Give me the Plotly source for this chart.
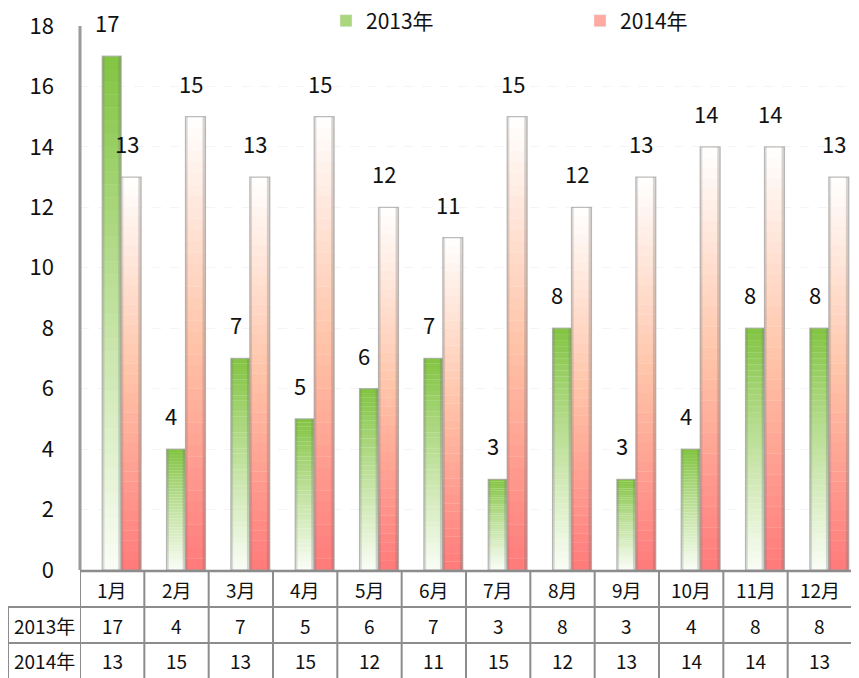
import plotly.graph_objects as go

months = ["1月", "2月", "3月", "4月", "5月", "6月", "7月", "8月", "9月", "10月", "11月", "12月"]
series_names = ["2013年", "2014年"]
v2013 = [17, 4, 7, 5, 6, 7, 3, 8, 3, 4, 8, 8]
v2014 = [13, 15, 13, 15, 12, 11, 15, 12, 13, 14, 14, 13]
y_ticks = [0, 2, 4, 6, 8, 10, 12, 14, 16, 18]

# the page body adds an 8px margin; layout is expressed in window pixels
OFF = 8
W, H = 859 - OFF, 678 - OFF
ML, MR, MT, MB = 80 - OFF, 7, 26 - OFF, 678 - 570
PW, PH = W - ML - MR, H - MT - MB

def py(p):  # window pixel y -> paper y
    return (H - MB - (p - OFF)) / PH

def px(p):  # window pixel x -> paper x
    return (p - OFF - ML) / PW

def lerp_stops(stops, t):
    for (t0, c0), (t1, c1) in zip(stops[:-1], stops[1:]):
        if t0 <= t <= t1:
            f = (t - t0) / (t1 - t0) if t1 > t0 else 0
            c = [round(a + (b - a) * f) for a, b in zip(c0, c1)]
            return "rgb(%d,%d,%d)" % tuple(c)
    c = stops[-1][1]
    return "rgb(%d,%d,%d)" % tuple(c)

green_stops = [(0.0, (250, 253, 246)), (0.5, (194, 226, 160)), (1.0, (130, 196, 66))]
red_stops = [(0.0, (255, 122, 122)), (0.5, (255, 196, 168)), (1.0, (255, 255, 255))]

x_idx = list(range(len(months)))
N = 40
fig = go.Figure()

specs = [
    (v2013, green_stops, -0.155, 0.295),
    (v2014, red_stops, 0.14, 0.31),
]
for vals, stops, off, wid in specs:
    for k in range(N):
        fig.add_trace(go.Bar(
            x=x_idx, y=[v / N * 1.03 if k < N - 1 else v / N for v in vals],
            base=[v * k / N for v in vals],
            offset=off, width=wid,
            marker=dict(color=lerp_stops(stops, (k + 0.5) / N), line=dict(width=0)),
            showlegend=False, hoverinfo="skip",
        ))
    # cylinder edge shading
    for eo, ew, a in ((off, 0.035, 0.22), (off + wid - 0.045, 0.045, 0.28)):
        fig.add_trace(go.Bar(
            x=x_idx, y=vals, offset=eo, width=ew,
            marker=dict(color="rgba(110,110,110,%.2f)" % a, line=dict(width=0)),
            showlegend=False, hoverinfo="skip",
        ))
    # cylinder outline
    fig.add_trace(go.Bar(
        x=x_idx, y=vals, offset=off, width=wid,
        marker=dict(color="rgba(0,0,0,0)", line=dict(color="rgba(160,160,160,0.7)", width=1.2)),
        showlegend=False, hoverinfo="skip",
    ))

# legend entries
fig.add_trace(go.Bar(x=[None], y=[None], name=series_names[0], legend="legend",
                     marker=dict(color="rgb(170,214,125)")))
fig.add_trace(go.Bar(x=[None], y=[None], name=series_names[1], legend="legend2",
                     marker=dict(color="rgb(255,170,160)")))

annotations = []
label_font = dict(family="Noto Sans CJK SC, Noto Sans, sans-serif", size=22, color="#111")
for i in x_idx:
    annotations.append(dict(x=i - 0.08, y=v2013[i], xref="x", yref="y", text=str(v2013[i]),
                            xanchor="center", yanchor="middle",
                            showarrow=False, yshift=34, font=label_font))
    annotations.append(dict(x=i + 0.225, y=v2014[i], xref="x", yref="y", text=str(v2014[i]),
                            xanchor="center", yanchor="middle",
                            showarrow=False, yshift=34, font=label_font))

# data table
tfont = dict(family="Liberation Sans Narrow, Noto Sans CJK SC, sans-serif", size=19, color="#111")
row_centers = [589, 625, 660]
def cell(x, y, text, xref="x"):
    return dict(x=x, y=y, xref=xref, yref="paper", text=text, showarrow=False,
                xanchor="center", yanchor="middle", font=tfont)
for i in x_idx:
    annotations.append(cell(i, py(row_centers[0]), months[i]))
    annotations.append(cell(i, py(row_centers[1]), str(v2013[i])))
    annotations.append(cell(i, py(row_centers[2]), str(v2014[i])))
for r, name in enumerate(series_names):
    annotations.append(cell(px(44), py(row_centers[r + 1]), name, xref="paper"))

line_col = "#8c8c8c"
shapes = []
shapes.append(dict(type="line", xref="paper", yref="paper", x0=0, x1=1, y0=py(571), y1=py(571),
                   line=dict(color=line_col, width=2.5)))
for yp in (607, 643):
    shapes.append(dict(type="line", xref="paper", yref="paper", x0=px(8), x1=1,
                       y0=py(yp), y1=py(yp), line=dict(color=line_col, width=2)))
for b in range(len(months) + 1):
    shapes.append(dict(type="line", xref="x", yref="paper", x0=b - 0.5, x1=b - 0.5,
                       y0=py(571), y1=py(680), line=dict(color=line_col, width=2)))
shapes.append(dict(type="line", xref="paper", yref="paper", x0=px(8), x1=px(8),
                   y0=py(607), y1=py(680), line=dict(color=line_col, width=2)))
shapes.append(dict(type="line", xref="paper", yref="paper", x0=0, x1=0, y0=0, y1=1,
                   line=dict(color="#9a9a9a", width=3)))

legend_common = dict(orientation="h", xanchor="left", yanchor="middle", y=py(21),
                     bgcolor="rgba(0,0,0,0)", itemwidth=30,
                     font=dict(family="Noto Sans CJK SC, Noto Sans, sans-serif", size=21, color="#111"))

fig.update_layout(
    width=W, height=H,
    margin=dict(l=ML, r=MR, t=MT, b=MB, pad=0, autoexpand=False),
    paper_bgcolor="white", plot_bgcolor="white",
    barmode="overlay",
    xaxis=dict(range=[-0.5, len(months) - 0.5], showticklabels=False, showgrid=False,
               zeroline=False, showline=False, fixedrange=True),
    yaxis=dict(range=[0, 18], tickvals=y_ticks, showgrid=True, gridcolor="#f4f4f4", griddash="dash",
               zeroline=False, showline=False, ticks="", ticklabelstandoff=25,
               ticklabeloverflow="allow",
               tickfont=dict(family="Noto Sans CJK SC, Noto Sans, sans-serif", size=22, color="#111")),
    legend=dict(x=px(326), **legend_common),
    legend2=dict(x=px(580), **legend_common),
    annotations=annotations,
    shapes=shapes,
    showlegend=True,
)

fig.write_html("out.html")
